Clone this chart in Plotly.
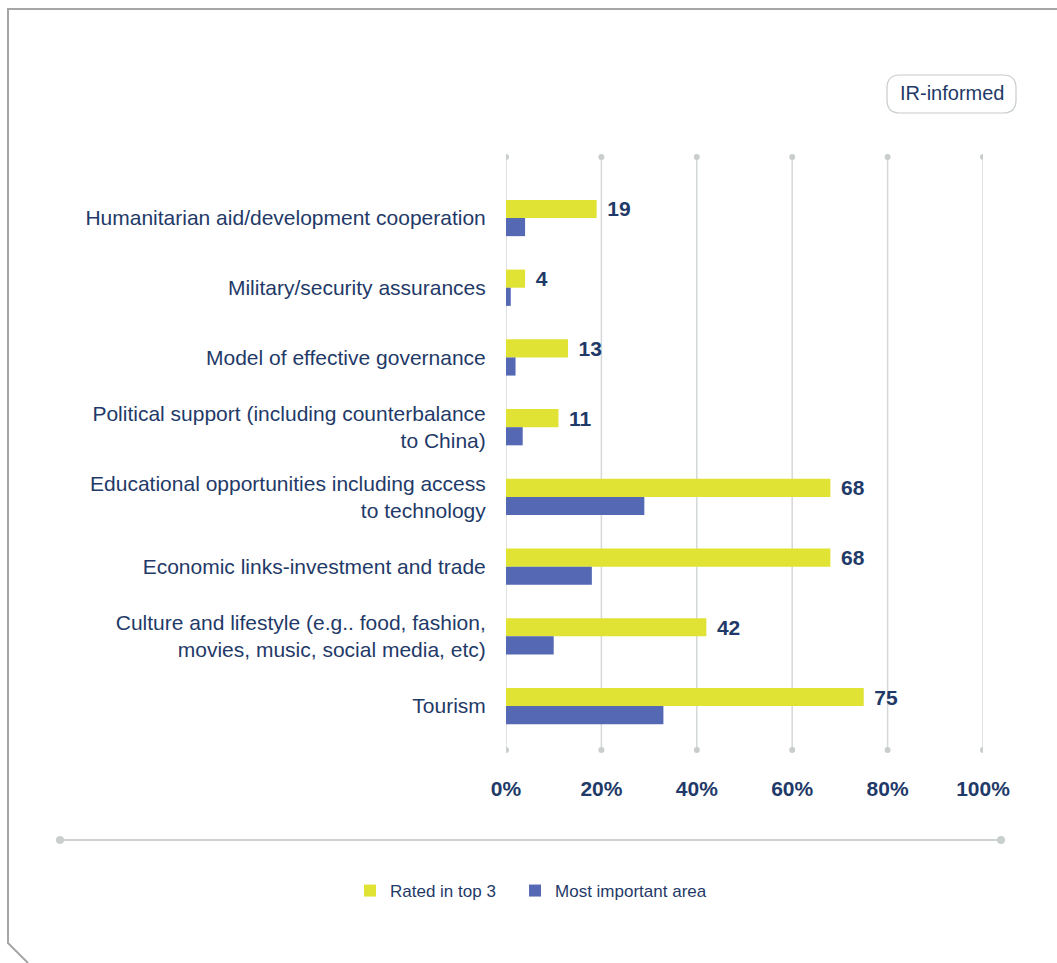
import plotly.graph_objects as go

# Survey data: share of IR-informed respondents per area (%)
categories = [
    "Humanitarian aid/development cooperation",
    "Military/security assurances",
    "Model of effective governance",
    "Political support (including counterbalance<br>to China)",
    "Educational opportunities including access<br>to technology",
    "Economic links-investment and trade",
    "Culture and lifestyle (e.g.. food, fashion,<br>movies, music, social media, etc)",
    "Tourism",
]
rated_top3 = [19, 4, 13, 11, 68, 68, 42, 75]
most_important = [4, 1, 2, 3.5, 29, 18, 10, 33]
tick_values = [0, 20, 40, 60, 80, 100]
tick_labels = ["0%", "20%", "40%", "60%", "80%", "100%"]
series_names = ["Rated in top 3", "Most important area"]

W, H = 1057, 963
L, R, T, B = 506, 983, 157, 750  # plot area in pixels

NAVY = "#1f3a68"
YELLOW = "#e0e334"
BLUE = "#5468b4"
GRID = "#d4d8d8"
FONT = "Liberation Sans, Arial, sans-serif"
NBSP = "\u00a0"


def px(x):
    return (x - L) / (R - L)


def py(y):
    return (B - y) / (B - T)


fig = go.Figure()
fig.add_trace(go.Bar(
    name=series_names[0] + NBSP * 3, y=categories, x=rated_top3, orientation="h",
    marker=dict(color=YELLOW, line=dict(width=0)),
    text=rated_top3, texttemplate=NBSP + "\u200a%{text}", textposition="outside",
    constraintext="none", cliponaxis=False,
    textfont=dict(family=FONT, size=21, color=NAVY, weight="bold"),
))
fig.add_trace(go.Bar(
    name=series_names[1], y=categories, x=most_important, orientation="h",
    marker=dict(color=BLUE, line=dict(width=0)),
))

shapes = []
# vertical grid lines with dotted ends
for v in tick_values:
    shapes.append(dict(type="line", xref="x", yref="paper", x0=v, x1=v, y0=0, y1=1,
                       line=dict(color=GRID, width=1.5), layer="below"))
    for yy in (0, 1):
        shapes.append(dict(type="circle", xref="x", yref="paper", xsizemode="pixel",
                           ysizemode="pixel", xanchor=v, yanchor=yy, x0=-3, x1=3, y0=-3, y1=3,
                           fillcolor="#c9cdcd", line=dict(width=0), layer="below"))

# separator line above the legend
shapes.append(dict(type="line", xref="paper", yref="paper", x0=px(60), x1=px(1001),
                   y0=py(840), y1=py(840), line=dict(color="#cdd2d0", width=2)))
for xx in (60, 1001):
    shapes.append(dict(type="circle", xref="paper", yref="paper", xsizemode="pixel",
                       ysizemode="pixel", xanchor=px(xx), yanchor=py(840),
                       x0=-4, x1=4, y0=-4, y1=4, fillcolor="#c9cfcc", line=dict(width=0)))

# outer frame with clipped corner
frame = [(1060, 9), (8, 9), (8, 943), (28, 963)]
path = "M " + " L ".join(f"{px(a):.5f},{py(b):.5f}" for a, b in frame)
shapes.append(dict(type="path", xref="paper", yref="paper", path=path,
                   line=dict(color="#a6a6a6", width=2)))

# rounded badge outline
x0, x1, y0, y1, r = 887, 1016, 75, 113, 13
pts = [
    ("M", (x0 + r, y0)), ("L", (x1 - r, y0)), ("Q", (x1, y0), (x1, y0 + r)),
    ("L", (x1, y1 - r)), ("Q", (x1, y1), (x1 - r, y1)), ("L", (x0 + r, y1)),
    ("Q", (x0, y1), (x0, y1 - r)), ("L", (x0, y0 + r)), ("Q", (x0, y0), (x0 + r, y0)),
]
segs = []
for p in pts:
    cmd = p[0]
    coords = " ".join(f"{px(a):.5f},{py(b):.5f}" for a, b in p[1:])
    segs.append(f"{cmd} {coords}")
shapes.append(dict(type="path", xref="paper", yref="paper", path=" ".join(segs) + " Z",
                   line=dict(color="#c8cccc", width=1.2)))

fig.update_layout(
    width=W, height=H,
    margin=dict(l=L, r=W - R, t=T, b=H - B, pad=0),
    paper_bgcolor="white", plot_bgcolor="white",
    barmode="group", bargap=0.48, bargroupgap=0,
    font=dict(family=FONT, color=NAVY),
    shapes=shapes,
    showlegend=True,
    legend=dict(orientation="h", x=px(350), y=py(891), xanchor="left", yanchor="middle",
                font=dict(family=FONT, size=17, color=NAVY),
                bgcolor="rgba(0,0,0,0)"),
    annotations=[dict(text="IR-informed", xref="paper", yref="paper",
                      x=px(951.5), y=py(93), xanchor="center", yanchor="middle",
                      showarrow=False,
                      font=dict(family=FONT, size=20, color=NAVY))],
    xaxis=dict(range=[0, 100], tickvals=tick_values, ticktext=tick_labels,
               showgrid=False, zeroline=False, showline=False,
               ticks="outside", ticklen=20, tickcolor="rgba(0,0,0,0)",
               tickfont=dict(family=FONT, size=21, color=NAVY, weight="bold"),
               fixedrange=True),
    yaxis=dict(type="category", categoryorder="array", categoryarray=categories,
               range=[7.63, -0.875], showgrid=False, zeroline=False, showline=False,
               ticks="outside", ticklen=15, tickcolor="rgba(0,0,0,0)",
               tickfont=dict(family=FONT, size=21, color=NAVY), fixedrange=True),
)

fig.write_html("out.html")
